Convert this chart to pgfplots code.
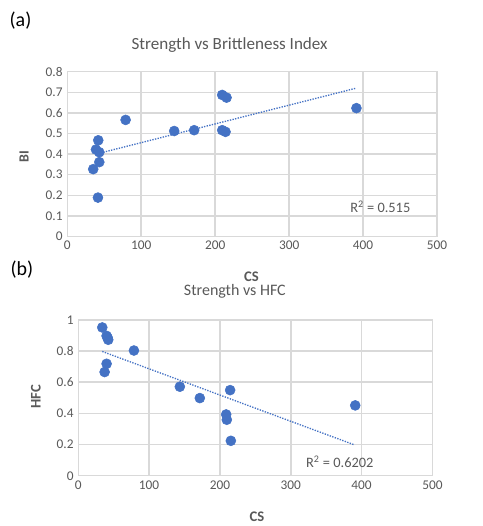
\documentclass[border=0pt]{standalone}
\usepackage{pgfplots}
\pgfplotsset{compat=1.18}
\usepackage{fontspec}
\setmainfont{Carlito}
\definecolor{ptblue}{HTML}{4472C4}
\definecolor{gridc}{HTML}{D9D9D9}
\definecolor{txtc}{HTML}{595959}
\pgfplotsset{
  xlstyle/.style={
    scale only axis,
    xmin=0, xmax=500, xtick={0,100,...,500},
    axis line style={draw=gridc, line width=1.1pt},
    grid=major, major grid style={draw=gridc, line width=1.1pt},
    tick style={draw=none}, major tick length=0pt,
    tick label style={font=\fontsize{10pt}{11pt}\selectfont, text=txtc},
    /pgf/number format/assume math mode=true,
    /pgf/number format/fixed,
    clip=false,
  }
}
\begin{document}
\begin{tikzpicture}[x=0.75pt,y=0.75pt]
\path (0,0) rectangle (483,526);
\coordinate (PA) at (67.3,289.3);
\coordinate (PB) at (78.3,50);
% ---------- (a) ----------
\node[font=\fontsize{15pt}{17pt}\selectfont] at (20.5,505.5) {(a)};
\node[font=\fontsize{12.8pt}{14pt}\selectfont, text=txtc] at (229.7,481) {Strength vs Brittleness Index};
\begin{axis}[xlstyle, at={(PA)}, anchor=south west,
  width=277.5pt, height=123.75pt,
  ymin=0, ymax=0.8, ytick={0,0.1,...,0.8},
  yticklabel style={/pgf/number format/precision=1},
  ]
\addplot[only marks, mark=*, mark size=3.75pt, color=ptblue, mark options={fill=ptblue, draw=ptblue}] coordinates {
(78.9,0.566) (41.9,0.467) (38.8,0.422) (43.3,0.409) (43.3,0.361) (35.1,0.327)
(41.5,0.189) (144.6,0.512) (171.6,0.516) (209.5,0.687) (215.4,0.674)
(209.5,0.516) (214,0.508) (391,0.623)};
\addplot[color=ptblue, densely dotted, line width=1pt] coordinates {(48.7,0.409) (389.7,0.719)};
\end{axis}
\node[font=\fontsize{10.8pt}{12pt}\selectfont, text=txtc] at (380.5,319) {R\textsuperscript{2} = 0.515};
\node[font=\fontsize{10.5pt}{12pt}\selectfont\bfseries, text=txtc, rotate=90] at (24,369.5) {BI};
\node[font=\fontsize{11pt}{12pt}\selectfont\bfseries, text=txtc] at (251.7,249.3) {CS};
% ---------- (b) ----------
\node[font=\fontsize{15pt}{17pt}\selectfont] at (22,256) {(b)};
\node[font=\fontsize{12pt}{14pt}\selectfont, text=txtc] at (235,234.3) {Strength vs HFC};
\begin{axis}[xlstyle, at={(PB)}, anchor=south west,
  width=265.8pt, height=117pt,
  ymin=0, ymax=1, ytick={0,0.2,...,1},
  yticklabel style={/pgf/number format/precision=1},
  ]
\addplot[only marks, mark=*, mark size=3.75pt, color=ptblue, mark options={fill=ptblue, draw=ptblue}] coordinates {
(33.9,0.951) (40,0.897) (42.3,0.872) (41.5,0.885) (78.6,0.803) (40,0.718) (37.2,0.665)
(143.4,0.571) (171.6,0.498) (214.4,0.549) (208.8,0.393) (209.7,0.359)
(215.4,0.224) (391,0.451)};
\addplot[color=ptblue, densely dotted, line width=1pt] coordinates {(33.9,0.797) (389.3,0.199)};
\end{axis}
\node[font=\fontsize{10.8pt}{12pt}\selectfont, text=txtc] at (340,64) {R\textsuperscript{2} = 0.6202};
\node[font=\fontsize{11pt}{12pt}\selectfont\bfseries, text=txtc, rotate=90] at (36,129) {HFC};
\node[font=\fontsize{11pt}{12pt}\selectfont\bfseries, text=txtc] at (257,9) {CS};
\end{tikzpicture}
\end{document}
